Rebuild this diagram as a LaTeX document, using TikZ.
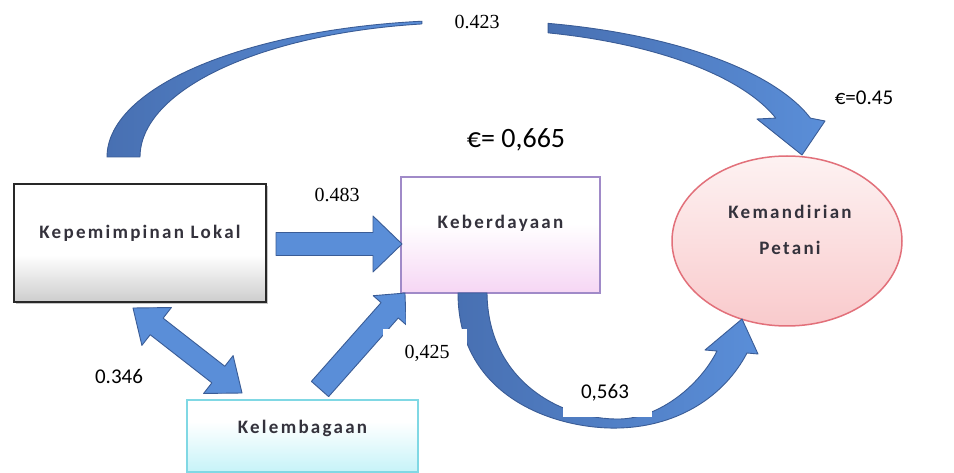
\documentclass[tikz,border=0pt]{standalone}
\usepackage{fontspec}
\setmainfont{Carlito}
\newfontfamily\boxfont[LetterSpace=12]{Carlito}
\newfontfamily\serfont{Liberation Serif}
\newfontfamily\calfont{Carlito}
\usetikzlibrary{shapes.geometric,shadows,calc}
\definecolor{ablue}{RGB}{90,142,216}
\definecolor{aedge}{RGB}{58,92,150}
\definecolor{adark}{RGB}{72,112,178}
\definecolor{kbborder}{RGB}{160,138,200}
\definecolor{kbfill}{RGB}{246,214,244}
\definecolor{elborder}{RGB}{226,112,122}
\definecolor{eltop}{RGB}{253,242,242}
\definecolor{elbot}{RGB}{249,202,204}
\definecolor{klborder}{RGB}{40,40,40}
\definecolor{klbot}{RGB}{205,205,205}
\definecolor{kgborder}{RGB}{128,216,228}
\definecolor{kgbot}{RGB}{198,243,248}
\definecolor{txtgray}{RGB}{52,50,60}
\pgfdeclareverticalshading{klshade}{100bp}{color(0bp)=(klbot); color(25bp)=(klbot); color(45bp)=(white); color(100bp)=(white)}
\pgfdeclareverticalshading{kbshade}{100bp}{color(0bp)=(kbfill); color(25bp)=(kbfill); color(55bp)=(white); color(100bp)=(white)}
\pgfdeclareverticalshading{kgshade}{100bp}{color(0bp)=(kgbot); color(25bp)=(kgbot); color(60bp)=(white); color(100bp)=(white)}
\newcommand{\blockarr}[6]{%
  \pgfpointdiff{\pgfpointanchor{#2}{center}}{\pgfpointanchor{#3}{center}}%
  \pgfgetlastxy{\bdx}{\bdy}%
  \pgfmathsetmacro\bang{atan2(\bdy,\bdx)}%
  \pgfmathsetmacro\blen{veclen(\bdx,\bdy)}%
  \begin{scope}[shift={(#2)}, rotate=\bang]
    \draw[#1] (0,-#4) -- ({\blen-#5},-#4) -- ({\blen-#5},-#6) -- (\blen,0)
      -- ({\blen-#5},#6) -- ({\blen-#5},#4) -- (0,#4) -- cycle;
  \end{scope}}
\newcommand{\dblockarr}[6]{%
  \pgfpointdiff{\pgfpointanchor{#2}{center}}{\pgfpointanchor{#3}{center}}%
  \pgfgetlastxy{\bdx}{\bdy}%
  \pgfmathsetmacro\bang{atan2(\bdy,\bdx)}%
  \pgfmathsetmacro\blen{veclen(\bdx,\bdy)}%
  \begin{scope}[shift={(#2)}, rotate=\bang]
    \draw[#1] (0,0) -- (#5,-#6) -- (#5,-#4) -- ({\blen-#5},-#4) -- ({\blen-#5},-#6)
      -- (\blen,0) -- ({\blen-#5},#6) -- ({\blen-#5},#4) -- (#5,#4) -- (#5,#6) -- cycle;
  \end{scope}}
\begin{document}
\begin{tikzpicture}[x=1pt,y=-1pt,
  arrowst/.style={fill=ablue, draw=aedge, line width=0.9pt, line join=round},
  arcst/.style={left color=adark, right color=ablue, draw=aedge, line width=0.9pt, line join=round},
  boxtext/.style={font=\boxfont\bfseries\fontsize{19}{22}\selectfont, text=txtgray, inner sep=0pt},
  sernum/.style={font=\serfont\fontsize{20}{24}\selectfont, inner sep=0pt, anchor=base},
  calnum/.style={font=\calfont\fontsize{21}{25}\selectfont, inner sep=0pt, anchor=base},
  mask/.style={fill=white, draw=none}]
\useasboundingbox (0,0) rectangle (954,473);
\fill[white] (0,0) rectangle (954,473);
% top curved arrow (left and right visible parts)
\draw[arcst] plot[domain=180:262.4,samples=60] ({470+363*cos(\x)},{157+137*sin(\x)})
  -- plot[domain=261.6:180,samples=60] ({470+330*cos(\x)},{157+134.5*sin(\x)}) -- cycle;
\draw[arcst] plot[domain=282.7:343.5,samples=60] ({470+355*cos(\x)},{157+137*sin(\x)})
  -- (825,121) -- (802,155) -- (757,119)
  -- plot[domain=342.3:284.1,samples=60] ({470+321*cos(\x)},{157+128*sin(\x)}) -- cycle;
% boxes
\node[draw=klborder, line width=2.4pt, shading=klshade,
  minimum width=252pt, minimum height=118pt, inner sep=0pt,
  drop shadow={shadow xshift=2pt, shadow yshift=-2pt, opacity=0.45}]
  (kl) at (140,243) {};
\node[draw=kbborder, line width=1.5pt, shading=kbshade,
  minimum width=199pt, minimum height=116pt, inner sep=0pt]
  (kb) at (500.5,235) {};
\node[ellipse, draw=elborder, line width=1.5pt, top color=eltop, bottom color=elbot,
  minimum width=230pt, minimum height=170pt, inner sep=0pt] (km) at (787,241) {};
\node[draw=kgborder, line width=1.5pt, shading=kgshade,
  minimum width=231pt, minimum height=72pt, inner sep=0pt]
  (kg) at (302.5,436) {};
% straight block arrows
\coordinate (a1s) at (276,244);
\coordinate (a1e) at (402,244);
\coordinate (d1) at (133,308);
\coordinate (d2) at (242,393);
\coordinate (a3s) at (320,389);
\coordinate (a3e) at (405,293);
\blockarr{arrowst}{a1s}{a1e}{11.5}{29}{28}
\dblockarr{arrowst}{d1}{d2}{10.5}{30}{24}
\blockarr{arrowst}{a3s}{a3e}{11.5}{23}{22}
% bottom curved arrow
\draw[arcst] (458,293) .. controls (458,400) and (560,430) .. (620,428)
  .. controls (680,426) and (725,395) .. (747,353)
  -- (758,354) -- (742,319) -- (705,350) -- (717,351)
  .. controls (700,385) and (660,418) .. (620,419)
  .. controls (560,420) and (488,380) .. (487,293) -- cycle;
% white label boxes
\fill[mask] (405.5,294.5) rectangle (455,330);
\fill[mask] (383,329) rectangle (467,377);
\fill[mask] (563,367) rectangle (652,417);
% box texts
\node[boxtext] (kltxt) at ($(kl.center)+(0,-10)$) {Kepemimpinan Lokal};
\node[boxtext] (kbtxt) at ($(kb.center)+(0,-12)$) {Keberdayaan};
\node[boxtext] (kmtxt1) at ($(km.center)+(3,-29)$) {Kemandirian};
\node[boxtext] (kmtxt2) at ($(km.center)+(3,7)$) {Petani};
\node[boxtext] (kgtxt) at ($(kg.center)+(0,-8)$) {Kelembagaan};
% numeric labels
\node[sernum] (l1) at (477,29) {0.423};
\node[sernum] (l2) at (337,202) {0.483};
\node[sernum] (l3) at (427,359) {0,425};
\node[calnum] (l4) at (605,399) {0,563};
\node[calnum] (l5) at (119,383) {0.346};
\node[calnum] (l6) at (864,105) {€=0.45};
\node[font=\calfont\fontsize{28}{32}\selectfont, inner sep=0pt, anchor=base] (l7) at (516,148) {€= 0,665};
\end{tikzpicture}
\end{document}
